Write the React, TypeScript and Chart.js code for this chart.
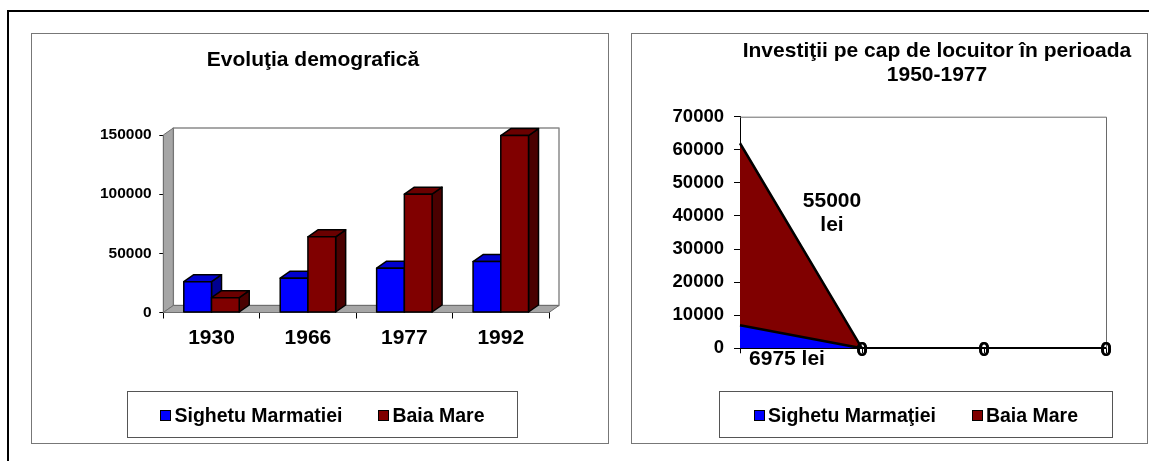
import React, { useEffect, useRef } from "react";
import { Chart, registerables } from "chart.js";

Chart.register(...registerables);

// ---------- data: left chart (demographic evolution) ----------
const demoTitle = "Evoluţia demografică";
const demoYears = ["1930", "1966", "1977", "1992"];
const sighetPopulation = [26000, 29000, 37500, 43000];
const baiaMarePopulation = [12500, 64000, 100000, 149500];
const demoSeriesNames = ["Sighetu Marmatiei", "Baia Mare"];
const demoAxisMax = 150000;
const demoAxisStep = 50000;

// ---------- data: right chart (investments per capita) ----------
const investTitle = ["Investiţii pe cap de locuitor în perioada", "1950-1977"];
const investCategories = ["1950", "1959", "1968", "1977"];
const sighetInvest = [6975, 0, 0, 0];
const baiaMareInvest = [55000, 0, 0, 0];
const investSeriesNames = ["Sighetu Marmaţiei", "Baia Mare"];
const investAxisMax = 70000;
const investAxisStep = 10000;
const investUnit = "lei";

const BLUE = "#0000ff";
const RED = "#800000";
const FONT = 'Arial, "Liberation Sans", sans-serif';

const faceColors = [
  { front: BLUE, top: "#0000d0", side: "#000090" },
  { front: RED, top: "#6a0000", side: "#4a0000" },
];
const DEPTH = { dx: 10, dy: -7 };

function poly(ctx: CanvasRenderingContext2D, pts: number[][], fill: string, stroke: string, lw: number) {
  ctx.beginPath();
  ctx.moveTo(pts[0][0], pts[0][1]);
  for (let i = 1; i < pts.length; i++) ctx.lineTo(pts[i][0], pts[i][1]);
  ctx.closePath();
  ctx.fillStyle = fill;
  ctx.fill();
  ctx.strokeStyle = stroke;
  ctx.lineWidth = lw;
  ctx.stroke();
}

const bar3dPlugin = {
  id: "bar3d",
  beforeDatasetsDraw(chart: any) {
    const { ctx, chartArea } = chart;
    const { left, right, top, bottom } = chartArea;
    const { dx, dy } = DEPTH;
    ctx.save();
    ctx.lineJoin = "round";
    poly(ctx, [[left + dx, top + dy], [right + dx, top + dy], [right + dx, bottom + dy], [left + dx, bottom + dy]], "#ffffff", "#8a8a8a", 1.5);
    poly(ctx, [[left, bottom], [left, top], [left + dx, top + dy], [left + dx, bottom + dy]], "#a6a6a6", "#6e6e6e", 1);
    poly(ctx, [[left, bottom], [left + dx, bottom + dy], [right + dx, bottom + dy], [right, bottom]], "#a6a6a6", "#6e6e6e", 1);
    ctx.restore();
  },
  afterDatasetsDraw(chart: any) {
    const { ctx } = chart;
    const { dx, dy } = DEPTH;
    const metas = chart.data.datasets.map((_: any, i: number) => chart.getDatasetMeta(i));
    const n = chart.data.labels.length;
    ctx.save();
    ctx.lineJoin = "round";
    for (let i = 0; i < n; i++) {
      metas.forEach((meta: any, di: number) => {
        const bar = meta.data[i];
        if (!bar) return;
        const { x, y, base, width } = bar.getProps(["x", "y", "base", "width"], true);
        const x1 = x - width / 2;
        const x2 = x + width / 2;
        const pal = faceColors[di];
        poly(ctx, [[x2, y], [x2 + dx, y + dy], [x2 + dx, base + dy], [x2, base]], pal.side, "#000", 1.5);
        poly(ctx, [[x1, y], [x1 + dx, y + dy], [x2 + dx, y + dy], [x2, y]], pal.top, "#000", 1.5);
        poly(ctx, [[x1, y], [x2, y], [x2, base], [x1, base]], pal.front, "#000", 1.5);
      });
    }
    ctx.restore();
  },
};

const plotBorderPlugin = {
  id: "plotBorder",
  beforeDatasetsDraw(chart: any) {
    const { ctx, chartArea } = chart;
    const { left, right, top, bottom } = chartArea;
    ctx.save();
    ctx.strokeStyle = "#6a6a6a";
    ctx.lineWidth = 1;
    ctx.beginPath();
    ctx.moveTo(left, top + 0.5);
    ctx.lineTo(right + 0.5, top + 0.5);
    ctx.lineTo(right + 0.5, bottom);
    ctx.stroke();
    ctx.restore();
  },
};

const areaLabelsPlugin = {
  id: "areaLabels",
  afterDatasetsDraw(chart: any) {
    const { ctx } = chart;
    const yScale = chart.scales.y;
    const zeroY = yScale.getPixelForValue(0);
    ctx.save();
    ctx.fillStyle = "#000";
    ctx.font = `bold 21px ${FONT}`;
    ctx.textAlign = "center";
    ctx.textBaseline = "middle";
    chart.data.datasets.forEach((ds: any, di: number) => {
      const meta = chart.getDatasetMeta(di);
      ds.data.forEach((v: number, i: number) => {
        const pt = meta.data[i];
        if (v === 0) {
          ctx.fillText("0", pt.x, pt.y + 1.5);
        } else if (di === 0) {
          ctx.fillText(`${v} ${investUnit}`, pt.x + 47, zeroY + 10.5);
        } else {
          ctx.fillText(`${v}`, pt.x + 92, pt.y + 57.5);
          ctx.fillText(investUnit, pt.x + 92, pt.y + 81.5);
        }
      });
    });
    ctx.restore();
  },
};

function Legend({ names, left, width }: { names: string[]; left: number; width: number }) {
  const colors = [BLUE, RED];
  return (
    <div
      style={{
        position: "absolute",
        left,
        top: 391,
        width,
        height: 47,
        boxSizing: "border-box",
        border: "1px solid #555",
        display: "flex",
        alignItems: "center",
        justifyContent: "center",
        gap: 36,
        fontFamily: FONT,
        fontWeight: "bold",
        fontSize: 19.5,
        color: "#000",
        paddingTop: 2,
      }}
    >
      {names.map((n, i) => (
        <div key={n} style={{ display: "flex", alignItems: "center", gap: 3 }}>
          <span
            style={{
              display: "inline-block",
              width: 11,
              height: 11,
              boxSizing: "border-box",
              border: "1px solid #000",
              background: colors[i],
            }}
          />
          <span>{n}</span>
        </div>
      ))}
    </div>
  );
}

const plainTick = (v: any) => `${v}`;

export default function App() {
  const leftRef = useRef<HTMLCanvasElement>(null);
  const rightRef = useRef<HTMLCanvasElement>(null);

  useEffect(() => {
    Chart.defaults.font.family = FONT;
    const left = new Chart(leftRef.current as HTMLCanvasElement, {
      type: "bar",
      data: {
        labels: demoYears,
        datasets: [
          { label: demoSeriesNames[0], data: sighetPopulation, backgroundColor: BLUE, borderWidth: 0, categoryPercentage: 0.575, barPercentage: 1 },
          { label: demoSeriesNames[1], data: baiaMarePopulation, backgroundColor: RED, borderWidth: 0, categoryPercentage: 0.575, barPercentage: 1 },
        ],
      },
      options: {
        animation: false,
        responsive: false,
        layout: { padding: { left: 0, right: 13, top: 0, bottom: 0 } },
        plugins: {
          legend: { display: false },
          tooltip: { enabled: false },
          title: {
            display: true,
            text: demoTitle,
            color: "#000",
            font: { size: 21, weight: "bold", lineHeight: 1.2 },
            padding: { top: 13.4, bottom: 62.4 },
          },
        },
        scales: {
          x: {
            z: 1,
            grid: { offset: true, drawOnChartArea: false, drawTicks: true, tickLength: 6, color: "#000" },
            border: { display: true, color: "#000", width: 1 },
            ticks: { color: "#000", font: { size: 21, weight: "bold" }, padding: 7.3, maxRotation: 0 },
            afterFit: (s: any) => { s.height = 129.5; },
          },
          y: {
            z: 1,
            min: 0,
            max: demoAxisMax,
            ticks: { stepSize: demoAxisStep, color: "#000", font: { size: 15.5, weight: "bold" }, padding: 7.6, callback: plainTick },
            grid: { drawOnChartArea: false, drawTicks: true, tickLength: 4, color: "#000" },
            border: { display: true, color: "#000", width: 1 },
            afterFit: (s: any) => { s.width = 131.3; },
          },
          y2: {
            position: "right",
            display: true,
            grid: { display: false },
            ticks: { display: false },
            border: { display: false },
            afterFit: (s: any) => { s.width = 45; },
          },
        },
      } as any,
      plugins: [bar3dPlugin],
    });

    const right = new Chart(rightRef.current as HTMLCanvasElement, {
      type: "line",
      data: {
        labels: investCategories,
        datasets: [
          { label: investSeriesNames[0], data: sighetInvest, fill: "origin", backgroundColor: BLUE, borderColor: "#000", borderWidth: 2.5, pointRadius: 0, tension: 0 },
          { label: investSeriesNames[1], data: baiaMareInvest, fill: "-1", backgroundColor: RED, borderColor: "#000", borderWidth: 2.5, pointRadius: 0, tension: 0 },
        ],
      },
      options: {
        animation: false,
        responsive: false,
        layout: { padding: { left: 0, right: 0, top: 0, bottom: 0 } },
        plugins: {
          legend: { display: false },
          tooltip: { enabled: false },
          title: {
            display: true,
            text: investTitle,
            color: "#000",
            font: { size: 21, weight: "bold", lineHeight: 24 / 21 },
            padding: { top: 5, bottom: 29.7 },
          },
        },
        scales: {
          x: {
            z: 1,
            offset: false,
            grid: { offset: false, drawOnChartArea: false, drawTicks: true, tickLength: 5, color: "#000" },
            border: { display: true, color: "#000", width: 1 },
            ticks: { display: false },
            afterFit: (s: any) => { s.height = 93.7; },
          },
          y: {
            z: 1,
            stacked: true,
            min: 0,
            max: investAxisMax,
            ticks: { stepSize: investAxisStep, color: "#000", font: { size: 18.5, weight: "bold" }, padding: 10, callback: plainTick },
            grid: { drawOnChartArea: false, drawTicks: true, tickLength: 6, color: "#000" },
            border: { display: true, color: "#000", width: 1 },
            afterFit: (s: any) => { s.width = 108; },
          },
          y2: {
            position: "right",
            display: true,
            grid: { display: false },
            ticks: { display: false },
            border: { display: false },
            afterFit: (s: any) => { s.width = 136; },
          },
        },
      } as any,
      plugins: [plotBorderPlugin, areaLabelsPlugin],
    });

    return () => {
      left.destroy();
      right.destroy();
    };
  }, []);

  return (
    <div
      style={{
        position: "absolute",
        left: 0,
        top: 0,
        width: 1149,
        height: 461,
        overflow: "hidden",
        background: "#fff",
      }}
    >
      <div style={{ position: "absolute", left: 7, top: 10, width: 1170, height: 480, border: "2px solid #000" }} />
      <div style={{ position: "absolute", left: 31, top: 33, width: 578, height: 411, boxSizing: "border-box", border: "1px solid #777" }} />
      <div style={{ position: "absolute", left: 631, top: 33, width: 517, height: 411, boxSizing: "border-box", border: "1px solid #777" }} />
      <canvas ref={leftRef} width={575} height={408} style={{ position: "absolute", left: 32, top: 34, width: 575, height: 408 }} />
      <canvas ref={rightRef} width={610} height={408} style={{ position: "absolute", left: 632, top: 34, width: 610, height: 408 }} />
      <Legend names={demoSeriesNames} left={127} width={391} />
      <Legend names={investSeriesNames} left={719} width={394} />
    </div>
  );
}
